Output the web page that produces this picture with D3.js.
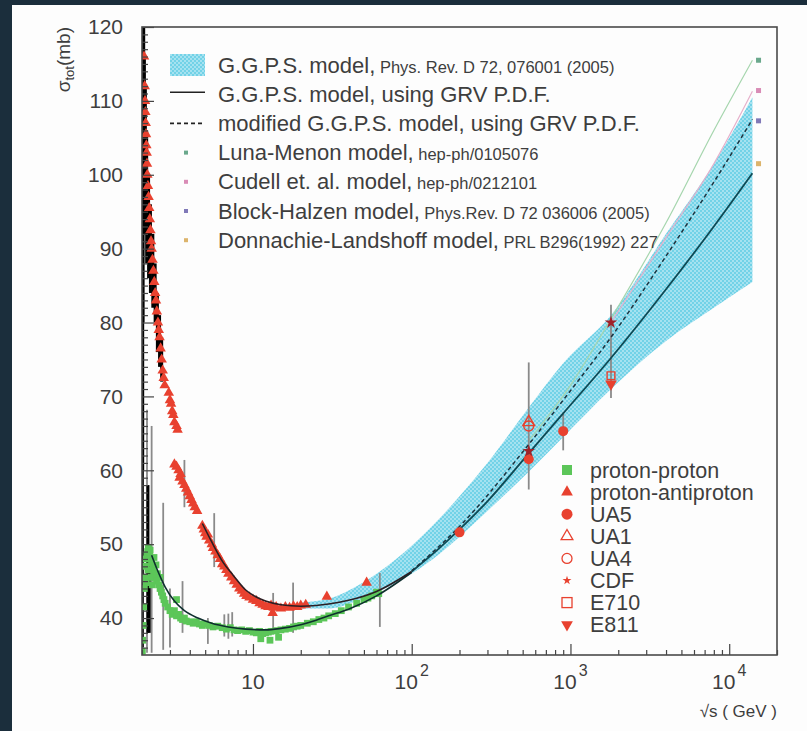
<!DOCTYPE html>
<html><head><meta charset="utf-8">
<script src="https://cdn.jsdelivr.net/npm/d3@7/dist/d3.min.js"></script>
<style>
html,body{margin:0;padding:0;background:#1b2e3c;}
svg{display:block;}
text{font-family:"Liberation Sans",Arial,Helvetica,sans-serif;fill:#3e3e3e;}
</style></head>
<body>
<script>
// ---------------- DATA ----------------
const xDomain = [2, 20000];
const yDomain = [35, 120];
const xMajorTicks = [10, 100, 1000, 10000];
const xTickBase = ["10", "10", "10", "10"];
const xTickExp = ["", "2", "3", "4"];
const yMajorTicks = [40, 50, 60, 70, 80, 90, 100, 110, 120];

// proton-antiproton data [sqrt(s) GeV, sigma mb]
const pbarpData = [
 [2.06,116],[2.08,112],[2.09,110],[2.10,108.5],[2.11,107],[2.12,105.5],[2.13,104],[2.14,103],[2.15,101.5],[2.16,100],
 [2.18,98.5],[2.2,97],[2.22,95.5],[2.24,94],[2.26,92.5],[2.28,91],[2.3,90],[2.33,88.5],[2.36,87],[2.39,85.5],
 [2.42,84],[2.45,83],[2.48,81.5],[2.52,80],[2.55,79],[2.58,78],[2.62,76.5],[2.66,75],[2.7,73.5],[2.74,72.5],[2.78,71.5],
 [2.95,70.5],[3.0,69.5],[3.05,69],[3.1,68],[3.15,67.5],[3.2,66.5],[3.3,66],[3.35,65.5],
 [3.2,60.8],[3.3,60.5],[3.4,60],[3.45,59],[3.5,59.5],[3.6,58.5],[3.7,58],[3.8,57.5],[3.9,57],[4.0,56.5],[4.1,56],[4.2,55.5],[4.3,55],[4.45,54.5],
 [4.8,52.5],[4.9,52],[5.0,51.5],[5.1,51],[5.2,51.3],[5.3,50.5],[5.5,50],[5.6,49.5],[5.8,49],[6.0,48.5],[6.2,48],[6.4,47.3],
 [6.6,47],[6.8,46.5],[7.0,46],[7.3,45.5],[7.6,45],[7.9,44.5],[8.2,44],[8.5,43.7],[8.8,43.3],[9.1,43],
 [9.5,42.8],[10,42.5],[10.5,42.3],[11,42],[11.5,41.8],[12,41.6],[12.5,41.5],[13,41.7],[13.5,41.4],[14,41.5],[15,41.3],
 [16,41.5],[17,41.4],[18,41.6],[19,41.5],[20,41.7],[21.5,41.8],[13.3,40.7],[29.2,42.9],[52,44.8]
];
// proton-proton data
const ppData = [
 [2.01,35.5],[2.02,37],[2.03,39],[2.05,41.5],[2.07,44],[2.09,45.5],[2.11,47],[2.13,48],[2.15,48.5],[2.17,49],[2.19,49.5],
 [2.21,49],[2.23,48.5],[2.25,49.2],[2.28,48],[2.3,47.5],[2.33,47],[2.36,46.5],[2.4,46],[2.43,45.5],[2.47,45],[2.5,46],
 [2.55,44.5],[2.6,44],[2.65,43.5],[2.7,43],[2.75,42.5],[2.8,42],[2.9,41.5],[3.0,41],[3.1,40.5],[3.2,41],[3.3,40.3],
 [3.4,40.5],[3.5,40],[3.6,39.8],[3.7,40],[3.8,39.6],[4.0,39.5],[4.2,39.3],[4.4,39.5],[4.6,39.2],[4.8,39],[5.0,39.2],
 [5.3,39],[5.6,38.8],[6,38.9],[6.4,38.7],[6.8,38.5],[7.2,38.7],[7.6,38.4],[8,38.3],[8.5,38.4],[9,38.2],[9.5,38.3],
 [10,38.1],[10.5,38],[11,38.2],[11.5,37.9],[12,38],[12.5,38.1],[13,38.2],[14,38.3],[15,38.4],[16,38.5],[17,38.6],
 [18,38.8],[19,38.9],[20,39],[22,39.3],[24,39.5],[26,39.8],[28,40],[30,40.3],[33,40.6],[36,41],[40,41.5],[45,42],
 [50,42.5],[53,42.7],[56,43],[60,43.5],[62,43.3],[11.2,37.2],[12.8,37.0],[14.5,37.4],[3.3,42.5],[2.6,45.5],
 [2.18,46.5],[2.24,45.5],[2.32,44.5],[2.12,44.8],[2.45,47.2],[2.38,48.2]
];
// error bars [sqrt(s), low, high]
const blackErrors = [
 [2.01,36,120],[2.02,60,120],[2.03,80,120],[2.04,95,120],[2.05,100,120],[2.07,98,116],[2.1,92,112],[2.14,88,106],
 [2.2,86,100],[2.26,84,96],[2.34,82,92],[2.42,80,88],[2.5,76,84],[2.58,74,81],[2.66,72,78],[2.18,38,58],[2.22,38,50]
];
const grayErrors = [
 [2.15,35.3,68.2],[2.3,35.3,66],[2.72,35.7,55.6],[3.0,36,44],[3.6,38,45],[3.7,55,61.4],[5.7,46.9,54.2],
 [5.2,36.5,40],[6.6,37.5,40.5],[7.0,37.2,40.6],[7.4,37.5,40.8],[13.4,38,43.4],[17.9,38,44.8],[63,38.8,46.1],
 [546,57.4,74.6],[900,62.7,67.8],[1800,69.8,82.4]
];
// collider points
const ua5 = [[200,51.6],[546,61.5],[900,65.3]];
const ua1 = [[546,66.5]];
const ua4 = [[546,66]];
const cdf = [[546,62.6],[1800,80]];
const e710 = [[1800,72.8]];
const e811 = [[1800,71.7]];

// GGPS model curves
const ggpsPbarp = [[4.8,52.8],[5.5,50.3],[6.5,47.5],[7.5,45.8],[9,43.8],[10,43.1],[12,42.3],[15,41.8],[20,41.6],[25,41.7],[30,41.9],[40,42.4],[60,43.6],[100,46.3]];
const ggpsPp = [[2.3,48.5],[2.5,46.5],[2.8,44.2],[3.2,42.3],[3.7,41],[4.5,40],[5.5,39.3],[7,38.8],[9,38.5],[12,38.4],[15,38.6],[20,39.1],[25,39.7],[30,40.3],[40,41.2],[60,43],[100,46.2]];
const ggpsHigh = [[100,46.3],[150,49.5],[200,52],[300,55.8],[546,62.3],[900,67.7],[1800,75.2],[4000,84.5],[8000,93],[14000,100.2]];
const ggpsModified = [[100,46.4],[200,52.4],[546,63.5],[900,69.5],[1800,78],[4000,89],[8000,99],[14000,107.5]];
// band [sqrt(s), low, high]
const ggpsBand = [[20,41.3,42.1],[30,41.3,42.6],[45,42.3,44.3],[62,43.6,46.2],[100,46,49.8],[150,48.7,53.5],[200,51,56.5],
 [300,54.5,61],[546,59.8,68.5],[900,64.5,74.5],[1800,71,81],[4000,77.5,92],[8000,82,101.5],[14000,85.5,110.5]];
const lunaMenon = [[546,64],[1000,71.5],[1800,80.5],[4000,93.5],[8000,106],[14000,115.5]];
const cudell = [[1800,80],[4000,91.5],[8000,101.5],[14000,111.3]];
// LHC predictions (markers right of band)
const lhcS = 15300;
const lhcNames = ["Luna-Menon","Cudell","Block-Halzen","Donnachie-Landshoff"];
const lhcValues = [115.5, 111.4, 107.3, 101.5];
const lhcColors = ["#6aa88c","#d98cb6","#8079b8","#dcb46c"];

const legendMain = ["G.G.P.S. model,","G.G.P.S. model, using GRV P.D.F.","modified G.G.P.S. model, using GRV P.D.F.",
 "Luna-Menon model,","Cudell et. al. model,","Block-Halzen model,","Donnachie-Landshoff model,"];
const legendRef = ["Phys. Rev. D 72, 076001 (2005)","","","hep-ph/0105076","hep-ph/0212101","Phys.Rev. D 72 036006 (2005)","PRL B296(1992) 227"];
const legend2 = ["proton-proton","proton-antiproton","UA5","UA1","UA4","CDF","E710","E811"];

// ---------------- DRAW ----------------
const W = 807, H = 731;
const svg = d3.select("body").append("svg").attr("width", W).attr("height", H);
svg.append("rect").attr("x",0).attr("y",0).attr("width",W).attr("height",H).attr("fill","#1b2e3c");
svg.append("rect").attr("x",12).attr("y",5).attr("width",W-12).attr("height",H-5).attr("fill","#fdfdfd");

const L = 142, R = 777, T = 27, B = 655;
const x = d3.scaleLog().domain(xDomain).range([L, R]);
const y = d3.scaleLinear().domain(yDomain).range([B, T]);

const defs = svg.append("defs");
const pat = defs.append("pattern").attr("id","dots").attr("patternUnits","userSpaceOnUse").attr("width",4).attr("height",4);
pat.append("rect").attr("width",4).attr("height",4).attr("fill","#72d2e7");
pat.append("circle").attr("cx",1).attr("cy",1).attr("r",0.8).attr("fill","#e6f8fc");
pat.append("circle").attr("cx",3).attr("cy",3).attr("r",0.8).attr("fill","#e6f8fc");
defs.append("clipPath").attr("id","clip").append("rect").attr("x",L).attr("y",T).attr("width",R-L).attr("height",B-T);

const plot = svg.append("g").attr("clip-path","url(#clip)");

// band
plot.append("path").datum(ggpsBand)
 .attr("d", d3.area().x(d=>x(d[0])).y0(d=>y(d[1])).y1(d=>y(d[2])).curve(d3.curveMonotoneX))
 .attr("fill","url(#dots)").attr("stroke","none");

const line = d3.line().x(d=>x(d[0])).y(d=>y(d[1])).curve(d3.curveMonotoneX);
plot.append("path").datum(lunaMenon).attr("d",line).attr("fill","none").attr("stroke","#a6d6ae").attr("stroke-width",1.2);
plot.append("path").datum(cudell).attr("d",line).attr("fill","none").attr("stroke","#e6b0cb").attr("stroke-width",1.2);

// error bars
plot.selectAll(".eg").data(grayErrors).join("line")
 .attr("x1",d=>x(d[0])).attr("x2",d=>x(d[0])).attr("y1",d=>y(d[1])).attr("y2",d=>y(d[2]))
 .attr("stroke","#8a8a8a").attr("stroke-width",1.8);
plot.selectAll(".eb").data(blackErrors).join("line")
 .attr("x1",d=>x(d[0])).attr("x2",d=>x(d[0])).attr("y1",d=>y(d[1])).attr("y2",d=>y(d[2]))
 .attr("stroke","#000").attr("stroke-width",3);

// data points
const tri = d3.symbol().type(d3.symbolTriangle).size(48)();
const sq = d3.symbol().type(d3.symbolSquare).size(46)();
plot.selectAll(".pp").data(ppData).join("path").attr("d",sq)
 .attr("transform",d=>`translate(${x(d[0])},${y(d[1])})`).attr("fill","#5cc659");
plot.selectAll(".pb").data(pbarpData).join("path").attr("d",tri)
 .attr("transform",d=>`translate(${x(d[0])},${y(d[1])})`).attr("fill","#e8412f");

// model lines
plot.append("path").datum(ggpsPp).attr("d",line).attr("fill","none").attr("stroke","#0e2f2e").attr("stroke-width",1.6);
plot.append("path").datum(ggpsPbarp).attr("d",line).attr("fill","none").attr("stroke","#2a1f24").attr("stroke-width",1.6);
plot.append("path").datum(ggpsHigh).attr("d",line).attr("fill","none").attr("stroke","#0d4a55").attr("stroke-width",1.8);
plot.append("path").datum(ggpsModified).attr("d",line).attr("fill","none").attr("stroke","#1d3440").attr("stroke-width",1.5).attr("stroke-dasharray","4,3");

// collider points
function sym(type,size){return d3.symbol().type(type).size(size)();}
const red = "#e8412f";
plot.selectAll(".ua5").data(ua5).join("circle").attr("cx",d=>x(d[0])).attr("cy",d=>y(d[1])).attr("r",5).attr("fill",red);
plot.selectAll(".ua1").data(ua1).join("path").attr("d",sym(d3.symbolTriangle,60))
 .attr("transform",d=>`translate(${x(d[0])},${y(d[1])})`).attr("fill","none").attr("stroke",red).attr("stroke-width",1.4);
plot.selectAll(".ua4").data(ua4).join("circle").attr("cx",d=>x(d[0])).attr("cy",d=>y(d[1])).attr("r",5).attr("fill","none").attr("stroke",red).attr("stroke-width",1.4);
plot.selectAll(".cdf").data(cdf).join("path").attr("d",sym(d3.symbolStar,50))
 .attr("transform",d=>`translate(${x(d[0])},${y(d[1])})`).attr("fill","#a0222a");
plot.selectAll(".e710").data(e710).join("path").attr("d",sym(d3.symbolSquare,60))
 .attr("transform",d=>`translate(${x(d[0])},${y(d[1])})`).attr("fill","none").attr("stroke",red).attr("stroke-width",1.4);
plot.selectAll(".e811").data(e811).join("path").attr("d",sym(d3.symbolTriangle,60))
 .attr("transform",d=>`translate(${x(d[0])},${y(d[1])}) rotate(180)`).attr("fill",red);

// LHC prediction markers
plot.selectAll(".lhc").data(lhcValues).join("rect")
 .attr("x",x(lhcS)-2.5).attr("y",d=>y(d)-2.5).attr("width",5).attr("height",5)
 .attr("fill",(d,i)=>lhcColors[i]);

// axes
const gx = svg.append("g").attr("transform",`translate(0,${B})`);
gx.call(d3.axisBottom(x).tickValues(x.ticks().filter(v=>!xMajorTicks.includes(v))).tickSize(-5).tickFormat(""));
gx.append("g").call(d3.axisBottom(x).tickValues(xMajorTicks).tickSize(-11).tickFormat(""));
gx.selectAll("path.domain").remove();
gx.selectAll("line").attr("stroke","#444").attr("stroke-width",1.2);

const gy = svg.append("g").attr("transform",`translate(${L},0)`);
gy.call(d3.axisLeft(y).tickValues(d3.range(36,120,1).filter(v=>v%10!==0)).tickSize(-6).tickFormat(""));
gy.append("g").call(d3.axisLeft(y).tickValues(yMajorTicks).tickSize(-12).tickPadding(19).tickFormat(d3.format("d")));
gy.selectAll("path.domain").remove();
gy.selectAll("line").attr("stroke","#444").attr("stroke-width",1.2);
gy.selectAll("text").attr("font-size",21).attr("fill","#3e3e3e").attr("font-family","Liberation Sans, Arial, sans-serif");

// x tick labels with superscripts
xMajorTicks.forEach((v,i)=>{
  const t = svg.append("text").attr("x",x(v)).attr("y",689).attr("font-size",21).attr("text-anchor","middle");
  t.append("tspan").text(xTickBase[i]);
  if (xTickExp[i]) t.append("tspan").attr("dy",-13).attr("font-size",16).attr("dx",2).text(xTickExp[i]);
});

// frame
svg.append("rect").attr("x",L).attr("y",T).attr("width",R-L).attr("height",B-T)
 .attr("fill","none").attr("stroke","#4a4a4a").attr("stroke-width",1.6);

// axis titles
svg.append("text").attr("x",R).attr("y",717).attr("text-anchor","end").attr("font-size",17).text("√s ( GeV )");
const yt = svg.append("text").attr("transform","translate(70,27) rotate(-90)").attr("text-anchor","end").attr("font-size",19);
yt.append("tspan").text("σ");
yt.append("tspan").attr("font-size",13).attr("dy",4).text("tot");
yt.append("tspan").attr("dy",-4).text("(mb)");

// top legend
const rowY = i => 65 + i*29.2;
const lg = svg.append("g");
lg.append("rect").attr("x",170).attr("y",rowY(0)-11).attr("width",35).attr("height",22).attr("fill","url(#dots)");
lg.append("line").attr("x1",170).attr("x2",205).attr("y1",rowY(1)-2).attr("y2",rowY(1)-2).attr("stroke","#222").attr("stroke-width",1.6);
lg.append("line").attr("x1",170).attr("x2",205).attr("y1",rowY(2)).attr("y2",rowY(2)).attr("stroke","#222").attr("stroke-width",1.6).attr("stroke-dasharray","4,3");
lhcColors.forEach((c,i)=>{
  lg.append("rect").attr("x",184).attr("y",rowY(i+3)-2).attr("width",4).attr("height",4).attr("fill",c);
});
legendMain.forEach((s,i)=>{
  const t = lg.append("text").attr("x",218).attr("y",rowY(i)+7.5).attr("font-size",22);
  t.append("tspan").text(s);
  if (legendRef[i]) t.append("tspan").attr("font-size",16.5).text(" " + legendRef[i]);
});

// bottom legend
const r2 = i => 470 + i*22.1;
const l2 = svg.append("g");
const mx = 567;
l2.append("rect").attr("x",mx-5).attr("y",r2(0)-5).attr("width",10).attr("height",10).attr("fill","#5cc659");
l2.append("path").attr("d",sym(d3.symbolTriangle,60)).attr("transform",`translate(${mx},${r2(1)})`).attr("fill",red);
l2.append("circle").attr("cx",mx).attr("cy",r2(2)).attr("r",5.5).attr("fill",red);
l2.append("path").attr("d",sym(d3.symbolTriangle,60)).attr("transform",`translate(${mx},${r2(3)})`).attr("fill","none").attr("stroke",red).attr("stroke-width",1.3);
l2.append("circle").attr("cx",mx).attr("cy",r2(4)).attr("r",5).attr("fill","none").attr("stroke",red).attr("stroke-width",1.3);
l2.append("path").attr("d",sym(d3.symbolStar,25)).attr("transform",`translate(${mx},${r2(5)})`).attr("fill",red);
l2.append("rect").attr("x",mx-5).attr("y",r2(6)-5).attr("width",10).attr("height",10).attr("fill","none").attr("stroke",red).attr("stroke-width",1.3);
l2.append("path").attr("d",sym(d3.symbolTriangle,60)).attr("transform",`translate(${mx},${r2(7)}) rotate(180)`).attr("fill",red);
legend2.forEach((s,i)=>{
  l2.append("text").attr("x",590).attr("y",r2(i)+7.5).attr("font-size",21.5).text(s);
});
</script>
</body></html>
